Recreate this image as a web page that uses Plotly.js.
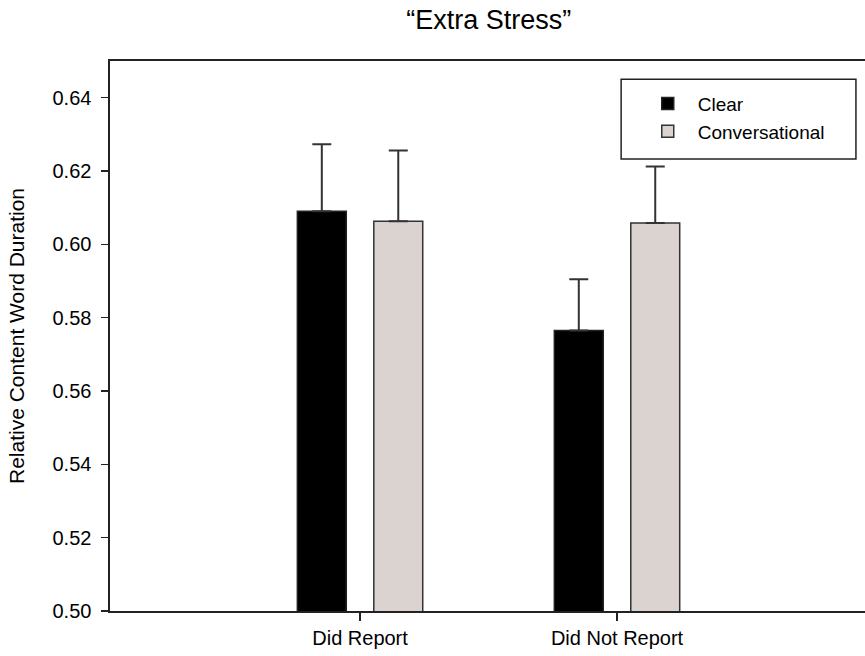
<!DOCTYPE html>
<html>
<head>
<meta charset="utf-8">
<script src="https://cdn.plot.ly/plotly-3.0.1.min.js"></script>
<style>html,body{margin:0;padding:0;background:#fff;}#chart{width:865px;height:656px;}</style>
</head>
<body>
<div id="chart"></div>
<script>
const categories = ["Did Report", "Did Not Report"];
const clearValues = [0.609, 0.5765];
const clearErrors = [0.0183, 0.014];
const convValues = [0.6063, 0.6058];
const convErrors = [0.0193, 0.0154];
const zeros = [0, 0];

const FONT = "Liberation Sans, Arial, Helvetica, sans-serif";

const traces = [
  {
    type: "bar", name: "Clear", x: categories, y: clearValues,
    marker: {color: "#000000", line: {color: "#222222", width: 1.5}},
    error_y: {type: "data", symmetric: false, array: clearErrors, arrayminus: zeros,
              color: "#333333", thickness: 2, width: 9.5}
  },
  {
    type: "bar", name: "Conversational", x: categories, y: convValues,
    marker: {color: "#dbd3d0", line: {color: "#333333", width: 1.5}},
    error_y: {type: "data", symmetric: false, array: convErrors, arrayminus: zeros,
              color: "#333333", thickness: 2, width: 9.5}
  }
];

const layout = {
  width: 865, height: 656,
  margin: {l: 110, r: 0, t: 61, b: 45},
  paper_bgcolor: "#ffffff", plot_bgcolor: "#ffffff",
  font: {family: FONT, size: 18, color: "#000"},
  title: {text: "“Extra Stress”", x: 0.565, xanchor: "center", y: 0.9695, yanchor: "middle",
          font: {family: FONT, size: 27, color: "#000"}},
  barmode: "group", bargap: 0.405, bargroupgap: 0.36,
  showlegend: true,
  legend: {x: 0.699, xanchor: "left", y: 0.957, yanchor: "top",
           bgcolor: "rgba(0,0,0,0)", borderwidth: 0,
           font: {family: FONT, size: 19, color: "#000"},
           itemwidth: 50, tracegroupgap: 0},
  shapes: [
    {type: "rect", xref: "paper", yref: "paper", x0: 0.677, x1: 0.988, y0: 0.822, y1: 0.967,
     line: {color: "#222222", width: 1.5}, fillcolor: "#ffffff", layer: "above"}
  ],
  xaxis: {
    range: [-0.973, 1.965], showline: true, linecolor: "#222", linewidth: 1.6,
    mirror: true, ticks: "outside", ticklen: 8, tickwidth: 1.2, tickcolor: "#222",
    showgrid: false, zeroline: false, tickfont: {family: FONT, size: 20}
  },
  yaxis: {
    range: [0.5, 0.65], dtick: 0.02, tick0: 0.5, tickformat: ".2f",
    showline: true, linecolor: "#222", linewidth: 1.6,
    ticks: "outside", ticklen: 7, tickwidth: 1.2, tickcolor: "#222",
    ticklabelstandoff: 6,
    showgrid: false, zeroline: false, tickfont: {family: FONT, size: 20},
    title: {text: "Relative Content Word Duration", standoff: 22,
            font: {family: FONT, size: 21}}
  }
};

Plotly.newPlot("chart", traces, layout, {displayModeBar: false, staticPlot: true});
</script>
</body>
</html>
